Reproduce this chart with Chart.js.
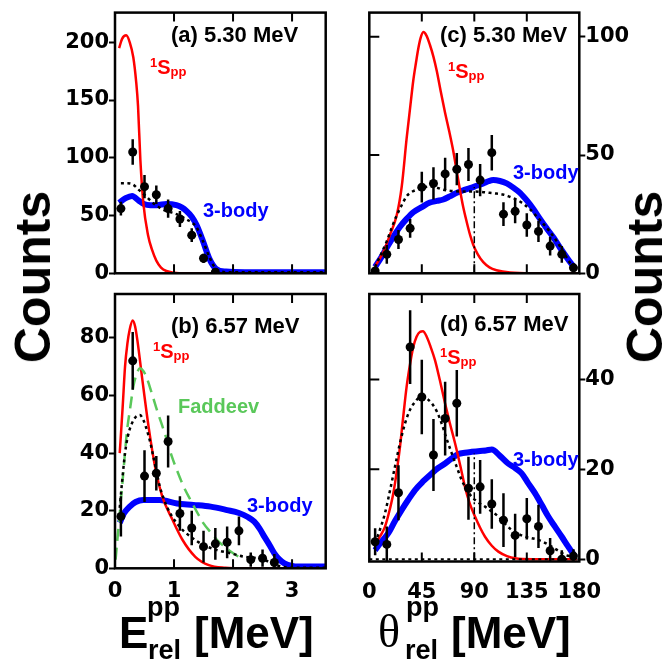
<!DOCTYPE html>
<html>
<head>
<meta charset="utf-8">
<script src="https://cdn.jsdelivr.net/npm/chart.js@4.4.1/dist/chart.umd.min.js"></script>
<style>
  body { margin: 0; background: #fff; }
  #page { position: relative; width: 667px; height: 668px; overflow: hidden; }
  canvas { position: absolute; left: 0; top: 0; }
  .t { position: absolute; white-space: nowrap; line-height: 1; font-family: "Liberation Sans", Arial, sans-serif; font-weight: bold; color: #000; }
  .lab { font-size: 22px; }
  .spp { font-size: 20px; color: #ff0000; }
  .spp .sup { font-size: 13px; position: relative; top: -7px; }
  .spp .sub { font-size: 13px; position: relative; top: 2px; }
  .body3 { font-size: 20px; color: #0000ff; }
  .fad { font-size: 20px; color: rgb(90, 200, 90); }
  .counts { font-size: 50px; transform: translate(-50%, -50%) rotate(-90deg); }
  .big { font-size: 44px; }
  .small { font-size: 27px; }
  .theta { font-family: "Liberation Serif", "Times New Roman", serif; font-weight: normal; font-size: 46px; }
</style>
</head>
<body>
<div id="page">
  <canvas id="pa" width="667" height="668"></canvas>
  <canvas id="pb" width="667" height="668"></canvas>
  <canvas id="pc" width="667" height="668"></canvas>
  <canvas id="pd" width="667" height="668"></canvas>

  <div class="t lab" style="left:171px; top:24px;">(a) 5.30 MeV</div>
  <div class="t lab" style="left:440px; top:24px;">(c) 5.30 MeV</div>
  <div class="t lab" style="left:171px; top:315px;">(b) 6.57 MeV</div>
  <div class="t lab" style="left:440px; top:313px;">(d) 6.57 MeV</div>

  <div class="t spp" style="left:150px; top:57px;"><span class="sup">1</span>S<span class="sub">pp</span></div>
  <div class="t spp" style="left:448px; top:61px;"><span class="sup">1</span>S<span class="sub">pp</span></div>
  <div class="t spp" style="left:153px; top:341px;"><span class="sup">1</span>S<span class="sub">pp</span></div>
  <div class="t spp" style="left:440px; top:347px;"><span class="sup">1</span>S<span class="sub">pp</span></div>

  <div class="t body3" style="left:203px; top:200px;">3-body</div>
  <div class="t body3" style="left:513px; top:162px;">3-body</div>
  <div class="t body3" style="left:247px; top:495px;">3-body</div>
  <div class="t body3" style="left:513px; top:449px;">3-body</div>
  <div class="t fad" style="left:178px; top:396px;">Faddeev</div>

  <div class="t counts" style="left:33px; top:277px;">Counts</div>
  <div class="t counts" style="left:645px; top:277px;">Counts</div>

  <div class="t big" style="left:119px; top:611px;">E</div>
  <div class="t small" style="left:147px; top:594px;">pp</div>
  <div class="t small" style="left:148px; top:637px;">rel</div>
  <div class="t big" style="left:194px; top:611px;">[MeV]</div>

  <div class="t theta" style="left:378px; top:609px;">θ</div>
  <div class="t small" style="left:406px; top:594px;">pp</div>
  <div class="t small" style="left:405px; top:637px;">rel</div>
  <div class="t big" style="left:451px; top:611px;">[MeV]</div>
</div>

<script>
// tick values
const eTicks = [0, 1, 2, 3];
const thTicks = [0, 45, 90, 135, 180];
const yTicksA = [0, 50, 100, 150, 200];
const yTicksB = [0, 20, 40, 60, 80];
const yTicksC = [0, 50, 100];
const yTicksD = [0, 20, 40];

// (a) E_rel at 5.30 MeV
const eA = [0.1, 0.3, 0.5, 0.7, 0.9, 1.1, 1.3, 1.5, 1.7];
const cntA = [56, 105, 75, 68, 56, 47, 33, 13, 1];
const errA = [6, 11, 10, 8, 8, 7, 6, 4, 1];
const redA = [[0.07,195],[0.12,203],[0.19,206],[0.25,200],[0.31,187],[0.36,165],[0.39,145],[0.43,98],[0.48,61],[0.56,33],[0.63,20],[0.70,11],[0.78,5],[0.87,2],[1.0,0.5],[1.2,0],[1.8,0]];
const blueA = [[0.07,61],[0.18,65],[0.29,67],[0.4,63],[0.49,60],[0.6,59],[0.71,59],[0.87,60],[1.04,59],[1.13,57],[1.21,54],[1.3,49],[1.38,42],[1.49,28],[1.6,12.5],[1.71,4],[1.88,1.5],[2.2,1],[3.57,1]];
const dotA = [[0.1,78],[0.2,78],[0.3,77],[0.41,72],[0.52,67],[0.64,61],[0.75,57],[0.86,54],[0.97,52.5],[1.1,50],[1.2,47],[1.3,44],[1.38,40],[1.49,28],[1.6,14],[1.71,4],[1.9,1],[3.57,1]];

// (b) E_rel at 6.57 MeV
const eB = [0.1, 0.3, 0.5, 0.7, 0.9, 1.1, 1.3, 1.5, 1.7, 1.9, 2.1, 2.3, 2.5, 2.7];
const cntB = [18, 72, 32, 33, 44, 19, 14, 7.5, 8.5, 9, 13, 3, 3.5, 2];
const errB = [7, 10, 9, 6, 9, 6, 6, 5.5, 5.5, 5.5, 5, 2.5, 3, 3];
const redB = [[0.08,40],[0.13,56],[0.17,70],[0.21,78],[0.25,83],[0.3,86],[0.34,84],[0.38,79],[0.46,66],[0.57,49],[0.69,34],[0.8,25],[0.97,17],[1.14,10],[1.36,4],[1.59,1.1],[1.87,0.2],[2.2,0],[2.9,0]];
const fadB = [[0.01,3],[0.08,19],[0.14,33],[0.2,47],[0.26,56],[0.31,63],[0.36,67],[0.42,69.4],[0.48,68.5],[0.54,66],[0.62,61],[0.71,55],[0.8,49.5],[0.88,44.5],[0.96,39],[1.05,34],[1.16,28.5],[1.28,23.7],[1.39,19.5],[1.5,15.6],[1.62,12.5],[1.73,9.8],[1.85,7.6],[1.96,5.8],[2.08,4.2],[2.15,3.3]];
const dotB = [[0.08,21],[0.12,30],[0.17,40],[0.22,46],[0.28,50],[0.35,52.5],[0.42,53.2],[0.48,51.5],[0.54,48],[0.6,43.5],[0.65,38.7],[0.7,34],[0.76,28.3],[0.82,24.5],[0.88,21.4],[0.96,18.2],[1.05,15.6],[1.16,13],[1.28,11],[1.39,9.4],[1.5,8.1],[1.73,6.3],[1.96,5.2],[2.19,4],[2.42,3.5],[2.55,2.8],[2.65,1.7],[2.82,0.6],[3.0,0.2],[3.57,0.2]];
const blueB = [[0.08,15.8],[0.15,19],[0.25,21.4],[0.35,23],[0.48,23.7],[0.76,23.7],[1.05,22.5],[1.33,22],[1.62,21.4],[1.9,20.2],[2.1,19.2],[2.25,17.8],[2.36,16.2],[2.45,13.8],[2.53,11],[2.62,8],[2.7,5.2],[2.78,3.2],[2.87,1.7],[3.0,0.8],[3.1,0.6],[3.57,0.6]];

// (c) theta_rel at 5.30 MeV
const thC = [5, 15, 25, 35, 45, 55, 65, 75, 85, 95, 105, 115, 125, 135, 145, 155, 165, 175];
const cntC = [1, 8, 14.3, 19, 36.4, 38, 42, 44, 46, 39.4, 51, 25, 26.2, 20.4, 17.7, 11.5, 8, 2.3];
const errC = [1, 4, 4, 4, 6.5, 6.8, 6.8, 6.8, 7, 6.8, 7.5, 5, 5, 5, 4.5, 4, 3.5, 2];
const redC = [[5,3],[6.3,4],[12,9],[17.7,16.3],[23.5,24.5],[27.8,36.7],[32,57],[35,70],[37.7,81.5],[40,89],[42,95],[44,99.5],[46.3,102],[49,100.5],[52,96.5],[55,91.5],[57.8,85.6],[61,77.5],[64.9,68],[68.5,60],[72,51.6],[75,43],[77.7,35.3],[80.5,28],[83.5,21.7],[86.5,16],[89,12.2],[93,8],[97.7,4.7],[103,2.5],[109,1.3],[120.6,0.3],[140,0],[180,0]];
const blueC = [[4.9,2.7],[10,6.5],[14.9,10.8],[20,15],[26.3,19.7],[32,23],[37.7,25.8],[45,28],[52,29.9],[58,30.6],[63.4,31.2],[69,32.5],[74.9,34],[80,35],[86.3,36],[92,37],[97.7,38],[102,38.9],[106.3,39.4],[112,39],[117.8,38],[123.5,36.2],[129.2,34],[135,30.8],[140.6,27.2],[146,23.2],[152,19],[158,15],[163.5,10.8],[170,6.2],[176.3,2]];
const dotC = [[5,2.7],[10,8],[15,13.6],[19,19],[23.5,24.5],[28,29],[32,32.6],[36,34.3],[40.5,35.3],[46,36.2],[52,36.7],[58,36.2],[63.4,35.3],[70,34.8],[80,34.6],[89,34.6],[96,34.4],[103,34],[109,33.7],[114.5,33.3],[120,32.4],[126,31.2],[132,29.4],[137.5,27.2],[143,24.3],[149,21],[155,17.5],[160.6,13.6],[165,10.2],[169,6.8],[172.5,4],[176,1.3]];
const vlineC = [[90,0],[90,36.5]];

// (d) theta_rel at 6.57 MeV
const thD = [5, 15, 25, 35, 45, 55, 65, 75, 85, 95, 105, 115, 125, 135, 145, 155, 165, 175];
const cntD = [3.9, 3.3, 14.8, 47.2, 36.1, 23.2, 31.3, 34.7, 15.8, 16.1, 12.3, 8.7, 5.3, 9, 7.3, 1.9, 0, 0.7];
const errD = [3, 4, 6.1, 8.2, 8.3, 8, 8.2, 7.4, 7, 6, 5.5, 6, 4.8, 4.6, 4.8, 2.8, 2, 1.5];
const redD = [[5,3.2],[9,5],[13.4,7.2],[17,10.5],[20.6,14.7],[23.5,19.5],[26.3,25],[29,31.5],[32,38.4],[35,43.5],[37.7,47.2],[40.5,49.5],[43.5,50.6],[46,50.7],[49.2,49.5],[52.5,47.3],[56.3,44.3],[60.5,39.8],[64.9,34.7],[69,30.3],[73.5,25.8],[78,20.8],[82,16.1],[86,12.5],[90.6,9.5],[95,7],[99.2,5],[105,3],[110.6,1.7],[118,0.7],[125,0.2],[140,0],[178,0]];
const blueD = [[5,2],[10,3.8],[16.3,5.8],[22,8.5],[27.8,11],[33.5,13.3],[39.2,15.4],[46,17.3],[53.5,19.1],[59,20.3],[65,21.3],[70,22.3],[76.3,23.4],[82,23.7],[87.8,23.9],[95,24.1],[100,24.2],[105,24.4],[112,23],[119,21.3],[125,20.3],[130.6,19.1],[136,17],[142,14.7],[148,12],[153.4,9.5],[159,7.3],[165,5],[170.5,2.8],[176.3,0.6]];
const dotD = [[5,3.6],[9,6.5],[13.4,10.2],[17.5,15],[22,20.6],[26,25.5],[30.6,30.2],[35,33.3],[39.2,35],[43,36],[46.3,36.1],[50,35.6],[53.5,34.7],[58,32.8],[62,30.2],[66,27],[70.6,23.6],[75,20.5],[79.2,17.6],[83.5,15.5],[87.8,13.9],[93,12.7],[99.2,11.7],[105,10.6],[110.6,9.5],[116,8],[122,6.5],[128,5.6],[133.5,5],[139,4.7],[145,4.3],[151,3.6],[156.3,2.8],[162,1.9],[167.7,1],[176,0.5]];
const vlineD = [[90,0],[90,23.5]];
const hlineD = [[0,0],[180,0]];

const W = 667, H = 668;
const RED = '#ff0000', BLUE = '#0000ff', GREEN = 'rgb(90, 200, 90)';
const tickFont = { family: '"DejaVu Sans", sans-serif', size: 21, weight: 'bold' };

function xy(pts) {
    return pts.map(function (p) { return { x: p[0], y: p[1] }; });
}

function curve(pts, color, width, dash) {
    return {
        data: xy(pts),
        showLine: true,
        borderColor: color,
        borderWidth: width,
        borderDash: dash || [],
        pointRadius: 0,
        cubicInterpolationMode: 'monotone',
        fill: false
    };
}

function straight(pts, width, dash) {
    return {
        data: xy(pts),
        showLine: true,
        borderColor: '#000',
        borderWidth: width,
        borderDash: dash,
        pointRadius: 0,
        tension: 0,
        fill: false
    };
}

function points(xs, ys, errs) {
    return {
        data: xs.map(function (x, i) { return { x: x, y: ys[i] }; }),
        showLine: false,
        pointRadius: 4.5,
        pointBackgroundColor: '#000',
        pointBorderWidth: 0,
        errors: errs
    };
}

// frame box + inward tick marks, like the original figure
const framePlugin = {
    id: 'frame',
    afterDraw: function (chart, args, opts) {
        const a = chart.chartArea, ctx = chart.ctx;
        const xs = chart.scales.x, ys = chart.scales.y;
        ctx.save();
        ctx.strokeStyle = '#000';
        ctx.lineWidth = 2;
        ctx.beginPath();
        opts.xTicks.forEach(function (v) {
            const px = xs.getPixelForValue(v);
            if (px < a.left + 3 || px > a.right - 3) return;
            ctx.moveTo(px, a.top); ctx.lineTo(px, a.top + 9);
            ctx.moveTo(px, a.bottom); ctx.lineTo(px, a.bottom - 9);
        });
        if (opts.innerLeft) {
            opts.yTicks.forEach(function (v) {
                const py = ys.getPixelForValue(v);
                if (py < a.top + 3 || py > a.bottom - 3) return;
                ctx.moveTo(a.left, py); ctx.lineTo(a.left + 10, py);
            });
        }
        ctx.stroke();
        ctx.lineWidth = 2.5;
        ctx.strokeRect(a.left, a.top, a.right - a.left, a.bottom - a.top);
        ctx.restore();
    }
};

const errorPlugin = {
    id: 'errorBars',
    afterDatasetDraw: function (chart, args) {
        const ds = chart.data.datasets[args.index];
        if (!ds.errors) return;
        const a = chart.chartArea, ctx = chart.ctx;
        const xs = chart.scales.x, ys = chart.scales.y;
        ctx.save();
        ctx.beginPath();
        ctx.rect(a.left, a.top, a.right - a.left, a.bottom - a.top);
        ctx.clip();
        ctx.strokeStyle = '#000';
        ctx.lineWidth = 2.5;
        ctx.beginPath();
        ds.data.forEach(function (p, i) {
            const px = xs.getPixelForValue(p.x);
            ctx.moveTo(px, ys.getPixelForValue(p.y - ds.errors[i]));
            ctx.lineTo(px, ys.getPixelForValue(p.y + ds.errors[i]));
        });
        ctx.stroke();
        ctx.restore();
    }
};

function panel(id, o) {
    const f = o.frame; // left, top, right, bottom of the plot box
    const AX = 60, XH = 40;
    const yRight = o.yPos === 'right';
    return new Chart(document.getElementById(id), {
        type: 'scatter',
        data: { datasets: o.datasets },
        options: {
            responsive: false,
            animation: false,
            events: [],
            layout: {
                autoPadding: false,
                padding: {
                    left: yRight ? f[0] : f[0] - AX,
                    right: yRight ? W - f[2] - AX : W - f[2],
                    top: f[1],
                    bottom: o.xLabels ? H - f[3] - XH : H - f[3]
                }
            },
            scales: {
                x: {
                    type: 'linear',
                    min: o.xMin,
                    max: o.xMax,
                    afterFit: function (s) { s.height = o.xLabels ? XH : 0; },
                    afterBuildTicks: function (s) { s.ticks = o.xTicks.map(function (v) { return { value: v }; }); },
                    grid: { drawOnChartArea: false, drawTicks: false },
                    border: { display: false },
                    ticks: { display: o.xLabels, padding: o.xPad || 0, color: '#000', font: tickFont, maxRotation: 0, autoSkip: false }
                },
                y: {
                    type: 'linear',
                    position: o.yPos,
                    min: o.yMin,
                    max: o.yMax,
                    afterFit: function (s) { s.width = AX; },
                    afterBuildTicks: function (s) { s.ticks = o.yTicks.map(function (v) { return { value: v }; }); },
                    grid: { drawOnChartArea: false, drawTicks: true, tickLength: 6, tickWidth: 2, color: '#000' },
                    border: { display: false },
                    ticks: { padding: 0, color: '#000', font: tickFont, autoSkip: false }
                }
            },
            plugins: {
                legend: { display: false },
                tooltip: { enabled: false },
                frame: { xTicks: o.xTicks, yTicks: o.yTicks, innerLeft: yRight }
            }
        },
        plugins: [framePlugin, errorPlugin]
    });
}

panel('pa', {
    frame: [115, 3.3, 325.7, 273.3],
    xMin: 0, xMax: 3.57, xTicks: eTicks, xLabels: false,
    yPos: 'left', yMin: 0, yMax: 225.7, yTicks: yTicksA,
    datasets: [
        curve(dotA, '#000', 2.5, [3, 3.5]),
        points(eA, cntA, errA),
        curve(redA, RED, 2.5),
        curve(blueA, BLUE, 6)
    ]
});

panel('pb', {
    frame: [115, 294, 325.7, 568.3],
    xMin: 0, xMax: 3.57, xTicks: eTicks, xLabels: true, xPad: 11,
    yPos: 'left', yMin: 0, yMax: 95.2, yTicks: yTicksB,
    datasets: [
        curve(dotB, '#000', 2.5, [3, 3.5]),
        points(eB, cntB, errB),
        curve(fadB, GREEN, 2.5, [12, 7]),
        curve(redB, RED, 2.5),
        curve(blueB, BLUE, 6)
    ]
});

panel('pc', {
    frame: [369.3, 3.3, 579.3, 273.3],
    xMin: 0, xMax: 180, xTicks: thTicks, xLabels: false,
    yPos: 'right', yMin: 0, yMax: 110.2, yTicks: yTicksC,
    datasets: [
        curve(dotC, '#000', 2.5, [3, 3.5]),
        points(thC, cntC, errC),
        straight(vlineC, 1.5, [7, 3, 2, 3]),
        curve(redC, RED, 2.5),
        curve(blueC, BLUE, 6)
    ]
});

panel('pd', {
    frame: [369.3, 294, 579.3, 561.5],
    xMin: 0, xMax: 180, xTicks: thTicks, xLabels: true, xPad: 18,
    yPos: 'right', yMin: -0.5, yMax: 59, yTicks: yTicksD,
    datasets: [
        curve(dotD, '#000', 2.5, [3, 3.5]),
        points(thD, cntD, errD),
        straight(vlineD, 1.5, [7, 3, 2, 3]),
        straight(hlineD, 2, [3, 3.5]),
        curve(redD, RED, 2.5),
        curve(blueD, BLUE, 6)
    ]
});
</script>
</body>
</html>
